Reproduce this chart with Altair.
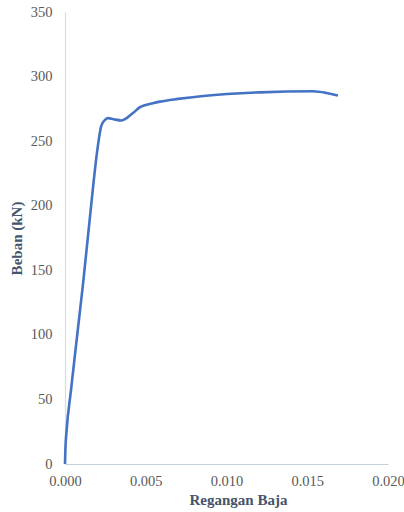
import altair as alt
import pandas as pd

strain = [0.0, 0.00002, 0.0001, 0.00037, 0.00072, 0.00113, 0.00165, 0.0020, 0.00225,
          0.00248, 0.00268, 0.0030, 0.0035, 0.00423, 0.00464, 0.00545, 0.00588,
          0.0070, 0.00856, 0.01207, 0.01536, 0.0162, 0.0169]
load = [0.0, 10, 26, 57, 96, 141, 204, 243, 262,
        266.5, 267.8, 267, 266, 272, 276.3, 279.4, 280.6,
        282.7, 285, 287.8, 288.6, 287.3, 285.3]

df = pd.DataFrame({"strain": strain, "load": load})

font = "'Liberation Serif', 'Times New Roman', serif"

chart = alt.Chart(df).mark_line(
    color="#4472C4", strokeWidth=2.6, interpolate="monotone"
).encode(
    x=alt.X("strain:Q", title="Regangan Baja",
            scale=alt.Scale(domain=[0, 0.02], nice=False),
            axis=alt.Axis(values=[0, 0.005, 0.01, 0.015, 0.02], format=".3f",
                          grid=False, ticks=False, domainColor="#c5cfe2",
                          domainWidth=1.2, labelPadding=10, titlePadding=5,
                          labelFont=font, labelFontSize=14.5, labelColor="#595959",
                          titleFont=font, titleFontSize=15, titleFontWeight="bold",
                          titleColor="#44546A", labelFlush=False, titleX=173)),
    y=alt.Y("load:Q", title="Beban (kN)",
            scale=alt.Scale(domain=[0, 350], nice=False),
            axis=alt.Axis(values=[0, 50, 100, 150, 200, 250, 300, 350],
                          grid=False, ticks=False, domainColor="#d9dce2",
                          domainWidth=1.2, labelPadding=13, titlePadding=6,
                          labelFont=font, labelFontSize=14.5, labelColor="#595959",
                          titleFont=font, titleFontSize=15, titleFontWeight="bold",
                          titleColor="#44546A")),
).properties(
    width=323, height=452,
    autosize=alt.AutoSizeParams(type="none"),
    padding={"left": 65, "top": 12, "right": 16, "bottom": 48},
).configure_view(stroke=None)

chart.save("out.html", embed_options={"renderer": "svg", "actions": False})
